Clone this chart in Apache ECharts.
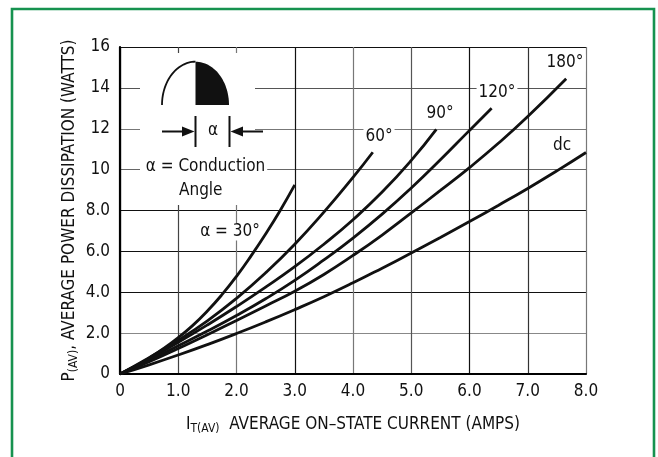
<!DOCTYPE html>
<html><head><meta charset="utf-8">
<script src="https://cdn.jsdelivr.net/npm/echarts@6/dist/echarts.min.js"></script>
<style>html,body{margin:0;padding:0;background:#fff}#c{width:658px;height:457px}</style>
</head><body><div id="c"></div>
<script>
// ---- data ----
const xTickLabels = ['0','1.0','2.0','3.0','4.0','5.0','6.0','7.0','8.0'];
const yTickLabels = ['0','2.0','4.0','6.0','8.0','10','12','14','16'];
const curveNames = ['α = 30°','60°','90°','120°','180°','dc'];
const current30 = [0,0.25,0.5,0.75,1.0,1.25,1.5,1.75,2.0,2.25,2.5,2.75,3.0];
const power30   = [0,0.35,0.78,1.25,1.78,2.38,3.08,3.88,4.78,5.78,6.85,8.0,9.25];
const current60 = [0,0.5,1.0,1.5,2.0,2.5,3.0,3.5,4.0,4.34];
const power60   = [0,0.8,1.65,2.6,3.7,4.95,6.35,7.92,9.62,10.85];
const current90 = [0,0.5,1.0,1.5,2.0,2.5,3.0,3.5,4.0,4.5,5.0,5.43];
const power90   = [0,0.75,1.55,2.4,3.3,4.25,5.25,6.35,7.55,8.9,10.45,11.97];
const current120 = [0,0.5,1.0,1.5,2.0,2.5,3.0,3.5,4.0,4.5,5.0,5.5,6.0,6.38];
const power120   = [0,0.68,1.38,2.1,2.86,3.68,4.58,5.58,6.65,7.82,9.1,10.48,11.92,13.0];
const current180 = [0,0.5,1.0,1.5,2.0,2.5,3.0,3.5,4.0,4.5,5.0,5.5,6.0,6.5,7.0,7.66];
const power180   = [0,0.6,1.25,1.92,2.62,3.33,4.05,4.87,5.8,6.8,7.88,8.98,10.1,11.3,12.6,14.45];
const currentDC = [0,0.5,1.0,1.5,2.0,2.5,3.0,3.5,4.0,4.5,5.0,5.5,6.0,6.5,7.0,7.5,8.0];
const powerDC   = [0,0.45,0.93,1.44,1.98,2.55,3.15,3.78,4.46,5.18,5.92,6.68,7.46,8.26,9.08,9.94,10.84];

const F = "'Liberation Sans Narrow','DejaVu Sans Condensed',sans-serif";
const INK = '#111';
const pairs = (xs, ys) => xs.map((x, i) => [x, ys[i]]);
const curves = [
  pairs(current30, power30), pairs(current60, power60), pairs(current90, power90),
  pairs(current120, power120), pairs(current180, power180), pairs(currentDC, powerDC)
];

const chart = echarts.init(document.getElementById('c'), null, {renderer: 'canvas'});

// inset drawing (conduction angle sketch)
const cx = 195.5, cy = 105, rx = 33.5, ry = 43.3;
const leftArc = [], rightFill = [[cx, cy]];
for (let k = 0; k <= 30; k++) {
  const t = Math.PI / 2 * k / 30;
  leftArc.push([cx - rx * Math.cos(t), cy - ry * Math.sin(t)]);
  rightFill.push([cx + rx * Math.sin(t), cy - ry * Math.cos(t)]);
}
rightFill.push([cx + rx, cy]);

function label(text, x, y, align) {
  return {
    type: 'text', z: 2, x: x, y: y,
    style: { text: text, font: '17px ' + F, fill: INK, align: align || 'center', verticalAlign: 'middle',
             backgroundColor: '#fff', padding: [0, 2] }
  };
}

const graphics = [
  { type: 'rect', z: 1, shape: { x: 140, y: 53, width: 115, height: 152 }, style: { fill: '#fff' } },
  { type: 'polyline', z: 6, shape: { points: leftArc }, style: { stroke: INK, lineWidth: 1.8, fill: null } },
  { type: 'polygon', z: 6, shape: { points: rightFill }, style: { fill: INK } },
  { type: 'line', z: 6, shape: { x1: 195.5, y1: 116, x2: 195.5, y2: 147 }, style: { stroke: INK, lineWidth: 2 } },
  { type: 'line', z: 6, shape: { x1: 229.5, y1: 116, x2: 229.5, y2: 147 }, style: { stroke: INK, lineWidth: 2 } },
  { type: 'line', z: 6, shape: { x1: 162, y1: 131.5, x2: 184, y2: 131.5 }, style: { stroke: INK, lineWidth: 2 } },
  { type: 'polygon', z: 6, shape: { points: [[194.5, 131.5], [182, 126.5], [182, 136.5]] }, style: { fill: INK } },
  { type: 'line', z: 6, shape: { x1: 241, y1: 131.5, x2: 263, y2: 131.5 }, style: { stroke: INK, lineWidth: 2 } },
  { type: 'polygon', z: 6, shape: { points: [[230.5, 131.5], [243, 126.5], [243, 136.5]] }, style: { fill: INK } },
  { type: 'text', z: 6, x: 213, y: 131, style: { text: 'α', font: '17px ' + F, fill: INK, align: 'center', verticalAlign: 'middle' } },
  label('α = Conduction', 205.5, 167),
  label('Angle', 177, 190.5, 'left'),
  label(curveNames[0], 230, 232),
  label(curveNames[1], 379, 136.5),
  label(curveNames[2], 440, 114),
  label(curveNames[3], 497, 93),
  label(curveNames[4], 565, 63),
  label(curveNames[5], 562, 146),
  { type: 'rect', z: 10, shape: { x: 12, y: 9, width: 642, height: 470 },
    style: { fill: 'none', stroke: '#16924f', lineWidth: 2.6 } }
];

const option = {
  backgroundColor: '#fff',
  animation: false,
  grid: { left: 120, right: 72, top: 47, bottom: 83, containLabel: false },
  xAxis: {
    type: 'value', min: 0, max: 8, interval: 1,
    name: '{m|I}{s|T(AV)}{m|  AVERAGE ON–STATE CURRENT (AMPS)}',
    nameLocation: 'middle', nameGap: 40,
    nameTextStyle: { rich: {
      m: { fontSize: 17, fontFamily: F, color: INK },
      s: { fontSize: 12, fontFamily: F, color: INK, padding: [9, 0, 0, 0] }
    } },
    axisLine: { show: true, onZero: false, lineStyle: { color: '#000', width: 2.2 } },
    axisTick: { show: false },
    axisLabel: { formatter: v => xTickLabels[Math.round(v)], fontSize: 17, fontFamily: F, color: INK, margin: 9 },
    splitLine: { show: true, lineStyle: { width: 1.2,
      color: ['#000', '#444', '#777', '#111', '#777', '#555', '#111', '#333', '#777'] } }
  },
  yAxis: {
    type: 'value', min: 0, max: 16, interval: 2,
    name: '{m|P}{s|(AV)}{m|, AVERAGE POWER DISSIPATION (WATTS)}',
    nameLocation: 'middle', nameRotate: 90, nameGap: 40, nameMoveOverlap: false,
    nameTextStyle: { rich: {
      m: { fontSize: 17, fontFamily: F, color: INK },
      s: { fontSize: 12, fontFamily: F, color: INK, padding: [9, 0, 0, 0] }
    } },
    axisLine: { show: true, onZero: false, lineStyle: { color: '#000', width: 2.2 } },
    axisTick: { show: false },
    axisLabel: { formatter: v => yTickLabels[Math.round(v / 2)], fontSize: 17, fontFamily: F, color: INK, margin: 10 },
    splitLine: { show: true, lineStyle: { width: 1.2,
      color: ['#000', '#888', '#111', '#111', '#111', '#666', '#777', '#555', '#111'] } }
  },
  series: curves.map((d, i) => ({
    name: curveNames[i], type: 'line', data: d, smooth: 0.5, showSymbol: false, z: 3,
    lineStyle: { color: INK, width: 2.8 }, silent: true
  })),
  graphic: graphics
};
chart.setOption(option);
</script></body></html>
